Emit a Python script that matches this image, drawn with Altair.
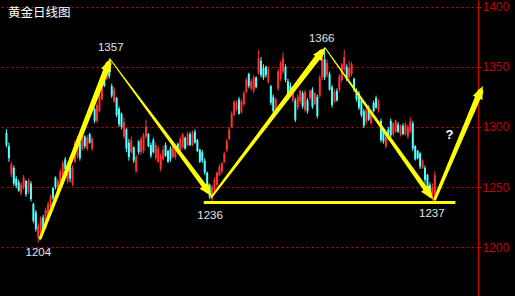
import math
import altair as alt
import pandas as pd

# Daily gold candles (USD/oz), oldest first
opens = [1295, 1284, 1261, 1266, 1257, 1254, 1245, 1250, 1255, 1246, 1253, 1236, 1229, 1208, 1212, 1225,
         1217, 1226, 1234, 1249, 1258, 1246, 1254, 1260, 1273, 1255, 1272, 1253, 1271, 1276, 1287, 1282,
         1292, 1282, 1294, 1282, 1315, 1305, 1313, 1323, 1346, 1340, 1352, 1334, 1321, 1324, 1315, 1311,
         1292, 1298, 1287, 1279, 1283, 1263, 1288, 1279, 1280, 1292, 1294, 1285, 1289, 1274, 1271, 1265,
         1273, 1285, 1280, 1282, 1275, 1275, 1286, 1280, 1283, 1291, 1285, 1294, 1285, 1296, 1289, 1281,
         1279, 1272, 1262, 1252, 1240, 1247, 1252, 1260, 1263, 1271, 1281, 1290, 1300, 1310, 1315, 1323,
         1312, 1319, 1329, 1344, 1332, 1330, 1341, 1345, 1355, 1349, 1350, 1337, 1334, 1325, 1312, 1332,
         1340, 1346, 1350, 1338, 1334, 1322, 1322, 1316, 1321, 1328, 1314, 1322, 1324, 1331, 1319, 1325,
         1326, 1341, 1356, 1343, 1344, 1333, 1321, 1330, 1331, 1339, 1348, 1350, 1341, 1344, 1340, 1330,
         1328, 1322, 1313, 1304, 1316, 1303, 1320, 1324, 1314, 1305, 1297, 1284, 1298, 1305, 1294, 1296,
         1302, 1294, 1301, 1294, 1292, 1296, 1303, 1284, 1280, 1278, 1266, 1266, 1260, 1252, 1241, 1244]
closes = [1285, 1274, 1269, 1253, 1251, 1247, 1252, 1258, 1244, 1255, 1240, 1222, 1215, 1218, 1224, 1215,
          1231, 1236, 1242, 1241, 1250, 1255, 1263, 1270, 1265, 1269, 1257, 1266, 1287, 1290, 1274, 1295,
          1284, 1291, 1287, 1290, 1305, 1318, 1327, 1337, 1334, 1346, 1342, 1326, 1331, 1310, 1302, 1300,
          1304, 1282, 1275, 1289, 1272, 1275, 1279, 1290, 1293, 1300, 1284, 1276, 1279, 1285, 1282, 1276,
          1281, 1276, 1271, 1273, 1285, 1283, 1279, 1290, 1294, 1282, 1294, 1285, 1295, 1287, 1280, 1271,
          1272, 1262, 1253, 1242, 1250, 1256, 1262, 1267, 1270, 1278, 1288, 1298, 1311, 1321, 1320, 1311,
          1321, 1328, 1339, 1334, 1338, 1341, 1333, 1357, 1343, 1341, 1343, 1348, 1320, 1313, 1323, 1346,
          1353, 1357, 1339, 1324, 1327, 1331, 1306, 1325, 1330, 1317, 1329, 1313, 1330, 1317, 1328, 1309,
          1341, 1357, 1341, 1353, 1331, 1318, 1329, 1322, 1342, 1352, 1358, 1340, 1349, 1352, 1331, 1323,
          1316, 1310, 1301, 1314, 1306, 1312, 1313, 1316, 1321, 1289, 1288, 1292, 1290, 1293, 1303, 1305,
          1296, 1301, 1294, 1302, 1300, 1305, 1282, 1273, 1274, 1267, 1272, 1256, 1249, 1243, 1250, 1260]
highs = [1298, 1287, 1271, 1268, 1259, 1256, 1254, 1260, 1256, 1257, 1255, 1237, 1231, 1220, 1226, 1227,
         1233, 1238, 1244, 1250, 1259, 1257, 1265, 1272, 1275, 1271, 1275, 1268, 1289, 1292, 1288, 1297,
         1293, 1293, 1295, 1292, 1316, 1320, 1329, 1339, 1347, 1348, 1357, 1336, 1333, 1325, 1317, 1312,
         1308, 1299, 1290, 1292, 1284, 1277, 1289, 1292, 1295, 1306, 1295, 1287, 1291, 1287, 1284, 1278,
         1284, 1287, 1281, 1284, 1287, 1285, 1287, 1292, 1295, 1292, 1296, 1296, 1297, 1298, 1290, 1282,
         1281, 1274, 1263, 1253, 1252, 1258, 1263, 1269, 1271, 1279, 1290, 1300, 1313, 1322, 1322, 1325,
         1323, 1330, 1341, 1345, 1340, 1343, 1342, 1364, 1358, 1352, 1351, 1350, 1335, 1327, 1324, 1348,
         1355, 1362, 1352, 1340, 1337, 1333, 1324, 1327, 1331, 1330, 1331, 1324, 1331, 1333, 1329, 1327,
         1343, 1359, 1366, 1356, 1346, 1335, 1331, 1332, 1344, 1353, 1364, 1352, 1355, 1354, 1341, 1332,
         1330, 1324, 1315, 1316, 1318, 1314, 1322, 1326, 1323, 1307, 1299, 1294, 1300, 1307, 1304, 1306,
         1304, 1302, 1303, 1304, 1302, 1308, 1305, 1285, 1281, 1279, 1273, 1268, 1261, 1254, 1253, 1263]
lows = [1283, 1271, 1258, 1251, 1249, 1246, 1243, 1248, 1242, 1244, 1238, 1220, 1213, 1204, 1210, 1213,
        1215, 1224, 1232, 1239, 1248, 1245, 1253, 1259, 1263, 1253, 1254, 1251, 1270, 1274, 1272, 1280,
        1282, 1280, 1286, 1280, 1303, 1303, 1312, 1322, 1333, 1339, 1340, 1324, 1320, 1308, 1300, 1298,
        1290, 1279, 1272, 1278, 1270, 1262, 1277, 1277, 1278, 1290, 1283, 1274, 1278, 1272, 1270, 1263,
        1272, 1275, 1270, 1271, 1274, 1273, 1278, 1279, 1282, 1281, 1284, 1284, 1284, 1286, 1279, 1270,
        1270, 1260, 1251, 1240, 1236, 1245, 1250, 1259, 1261, 1270, 1279, 1289, 1299, 1309, 1313, 1310,
        1311, 1317, 1328, 1332, 1330, 1328, 1332, 1343, 1341, 1339, 1341, 1336, 1318, 1311, 1310, 1330,
        1338, 1344, 1337, 1322, 1325, 1320, 1304, 1314, 1319, 1315, 1312, 1311, 1322, 1315, 1318, 1307,
        1324, 1339, 1339, 1341, 1330, 1316, 1320, 1321, 1329, 1337, 1346, 1338, 1339, 1342, 1329, 1321,
        1314, 1308, 1299, 1302, 1305, 1302, 1312, 1315, 1312, 1287, 1286, 1282, 1289, 1291, 1292, 1295,
        1295, 1292, 1293, 1293, 1290, 1295, 1280, 1272, 1273, 1265, 1265, 1253, 1246, 1241, 1237, 1239]

# Swing annotations: label text, value, anchor bar, vertical offset in px
label_text = ["1357", "1204", "1236", "1366", "1237"]
label_value = [1357, 1204, 1236, 1366, 1237]
label_bar = [42.6, 13.0, 83.2, 128.8, 173.8]
label_dy_px = [-10, 10.5, 12, -8, 11]

# Trend arrows: from (bar, price) to (bar, price), tail and head widths in px
arrow_from_bar = [13.8, 42.6, 83.8, 130.2, 175.0]
arrow_from_price = [1207.5, 1355.6, 1241.8, 1365.6, 1240.0]
arrow_to_bar = [42.6, 83.8, 130.2, 174.2, 194.6]
arrow_to_price = [1357.0, 1242.6, 1366.0, 1240.0, 1334.0]
arrow_w0 = [3.0, 1.0, 2.0, 1.0, 3.0]
arrow_w1 = [6.0, 5.0, 6.0, 5.0, 6.0]

support_price = 1237.2
support_from_bar, support_to_bar = 80.6, 183.4

UP, DOWN = "#ff3232", "#54ffff"
YELLOW = "#ffff00"
RED_LINE, RED_TEXT, RED_GRID = "#d40000", "#c40000", "#e00000"

W, H = 478, 296
X_DOMAIN = [-0.6, 190.6]
Y_DOMAIN = [1159.55, 1405.4]
px_per_bar = W / (X_DOMAIN[1] - X_DOMAIN[0])
px_per_usd = H / (Y_DOMAIN[1] - Y_DOMAIN[0])

x_scale = alt.Scale(domain=X_DOMAIN, nice=False, zero=False)
y_scale = alt.Scale(domain=Y_DOMAIN, nice=False, zero=False)

y_axis = alt.Axis(
    orient="right", values=[1200, 1250, 1300, 1350, 1400], format="d", title=None,
    grid=True, gridColor=RED_GRID, gridDash=[2, 3], gridWidth=1,
    domainColor=RED_LINE, domainWidth=1, tickColor=RED_LINE, tickSize=3,
    labelColor=RED_TEXT, labelFont="Liberation Sans", labelFontSize=12, labelPadding=1,
)


def px(field):
    return alt.X(field, scale=x_scale, axis=None)


def py(field):
    # every layer shares the same right-hand price axis
    return alt.Y(field, scale=y_scale, axis=y_axis)


bars = pd.DataFrame({
    "bar": list(range(len(opens))),
    "open": opens, "close": closes, "high": highs, "low": lows,
})
bars["dir"] = ["up" if c >= o else "down" for o, c in zip(opens, closes)]
color = alt.Color("dir:N", scale=alt.Scale(domain=["up", "down"], range=[UP, DOWN]), legend=None)

wicks = alt.Chart(bars).mark_rule(strokeWidth=1).encode(
    x=px("bar:Q"), y=py("low:Q"), y2="high:Q", color=color,
)
bodies = alt.Chart(bars).mark_bar(size=2).encode(
    x=px("bar:Q"), y=py("open:Q"), y2="close:Q", color=color,
)

# Arrow shafts (tapered trails) and heads
HEAD = 13.0
head_r = HEAD / 2
shaft_rows, head_rows = [], []
for k in range(len(arrow_from_bar)):
    sx, sy = arrow_from_bar[k], arrow_from_price[k]
    tx, ty = arrow_to_bar[k], arrow_to_price[k]
    dx = (tx - sx) * px_per_bar
    dy = -(ty - sy) * px_per_usd
    n = math.hypot(dx, dy)
    ux, uy = dx / n, dy / n
    cx = tx - head_r * ux / px_per_bar
    cy = ty + head_r * uy / px_per_usd
    ang = math.degrees(math.atan2(ux, -uy)) % 360
    shaft_rows.append({"arrow": k, "seq": 0, "bar": sx, "price": sy, "w": arrow_w0[k]})
    shaft_rows.append({"arrow": k, "seq": 1, "bar": cx, "price": cy, "w": arrow_w1[k]})
    head_rows.append({"arrow": k, "bar": cx, "price": cy, "ang": ang})

shafts = alt.Chart(pd.DataFrame(shaft_rows)).mark_trail(color=YELLOW).encode(
    x=px("bar:Q"), y=py("price:Q"),
    size=alt.Size("w:Q", scale=None, legend=None),
    detail="arrow:N",
    order="seq:Q",
)
heads = alt.Chart(pd.DataFrame(head_rows)).mark_point(
    shape="M0,-1L0.8,1L-0.8,1Z", filled=True, color=YELLOW, opacity=1,
    size=HEAD * HEAD, strokeWidth=0,
).encode(
    x=px("bar:Q"), y=py("price:Q"),
    angle=alt.Angle("ang:Q", scale=None),
)

support = alt.Chart(pd.DataFrame({
    "x0": [support_from_bar], "x1": [support_to_bar], "price": [support_price],
})).mark_rule(color=YELLOW, strokeWidth=3).encode(
    x=px("x0:Q"), x2="x1:Q", y=py("price:Q"),
)

labels_df = pd.DataFrame({
    "text": label_text,
    "bar": label_bar,
    "pos": [v - d / px_per_usd for v, d in zip(label_value, label_dy_px)],
})
labels = alt.Chart(labels_df).mark_text(
    font="Liberation Sans", fontSize=11.5, color="#e4e4e4", align="center", baseline="middle",
).encode(
    x=px("bar:Q"), y=py("pos:Q"), text="text:N",
)

question = alt.Chart(pd.DataFrame({"bar": [181.0], "pos": [1293.3], "text": ["?"]})).mark_text(
    font="Liberation Sans", fontSize=13, fontWeight="bold", color="white",
    align="center", baseline="middle",
).encode(
    x=px("bar:Q"), y=py("pos:Q"), text="text:N",
)

title = alt.Chart(pd.DataFrame({"t": ["黄金日线图"]})).mark_text(
    font="Noto Sans CJK SC", fontSize=12.5, color="white", align="left", baseline="middle",
).encode(x=alt.value(8), y=alt.value(13), text="t:N")

chart = alt.layer(
    wicks, bodies, support, shafts, heads, labels, question, title,
).properties(
    width=W, height=H,
    autosize=alt.AutoSizeParams(type="none"),
    padding={"left": 0, "top": 0, "right": 37, "bottom": 0},
    background="black",
).configure_view(stroke=None)

chart.save("out.html", embed_options={"renderer": "svg", "actions": False})
